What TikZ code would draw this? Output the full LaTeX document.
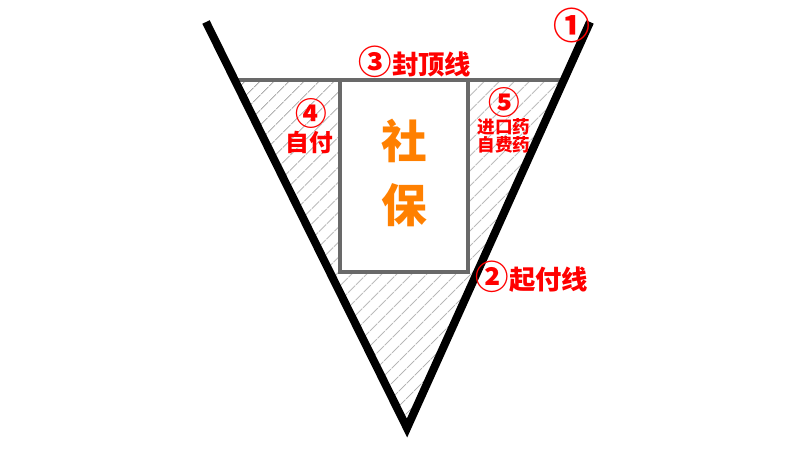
\documentclass[tikz,border=0pt]{standalone}
\usepackage{fontspec}
\usepackage{xcolor}
\newfontfamily\cjk{Noto Sans CJK SC}
\usetikzlibrary{calc,patterns.meta}

\definecolor{labelred}{RGB}{255,0,0}
\definecolor{sborange}{RGB}{255,128,0}
\definecolor{linegray}{RGB}{105,105,105}
\definecolor{hatchgray}{RGB}{160,160,160}

\newcommand{\circnum}[2]{{\fontsize{#1}{#1}\selectfont #2}}

\begin{document}
\begin{tikzpicture}[x=0.02cm, y=-0.02cm, inner sep=0pt, font=\cjk\bfseries]
\useasboundingbox [fill=white] (0,0) rectangle (800,450);
\tikzstyle{redlabel}=[text=labelred]
\tikzstyle{big}=[font=\cjk\bfseries\fontsize{15}{15}\selectfont]
\tikzstyle{mid}=[font=\cjk\bfseries\fontsize{13.5}{13.5}\selectfont]
\tikzstyle{small}=[font=\cjk\bfseries\fontsize{10}{10}\selectfont]

\coordinate (top-l) at (206,22);
\coordinate (tip) at (407,428);
\coordinate (top-r) at (590,22);
\coordinate (cap-l) at ($(top-l)!0.1429!(tip)$);
\coordinate (cap-r) at ($(top-r)!0.1429!(tip)$);

\node [draw=linegray, line width=2.3pt, minimum width=2.56cm, minimum height=3.84cm] (box) at (404,176) {};

% hatched part between the lines
\fill [pattern={Lines[angle=45, distance=6.5pt, line width=0.5pt]}, pattern color=hatchgray, even odd rule]
(cap-l) -- (cap-r) -- (tip) -- cycle (box.north west) rectangle (box.south east);

\draw [linegray, line width=2.3pt] (cap-l) -- (cap-r);
\draw [black, line width=4.6pt] (top-l) -- (tip) -- (top-r);

\node [redlabel] (n1) at (572,25) {\circnum{21}{①}};
\node [redlabel, big] (n3) at (415,62) {\circnum{19}{③}封顶线};
\node [redlabel, big] (n2) at (532,277) {\circnum{19}{②}起付线};
\node [redlabel] (n4) at (311,113) {\circnum{18}{④}};
\node [redlabel, mid] (selfpay) at (309,142) {自付};
\node [redlabel] (n5) at (504,102) {\circnum{18}{⑤}};
\node [redlabel, small] (import) at (504,127) {进口药};
\node [redlabel, small] (ownpay) at (504,145) {自费药};
\node [text=sborange, font=\cjk\bfseries\fontsize{26}{26}\selectfont] (she) at (404,141) {社};
\node [text=sborange, font=\cjk\bfseries\fontsize{26}{26}\selectfont] (bao) at (404,205) {保};
\end{tikzpicture}
\end{document}
